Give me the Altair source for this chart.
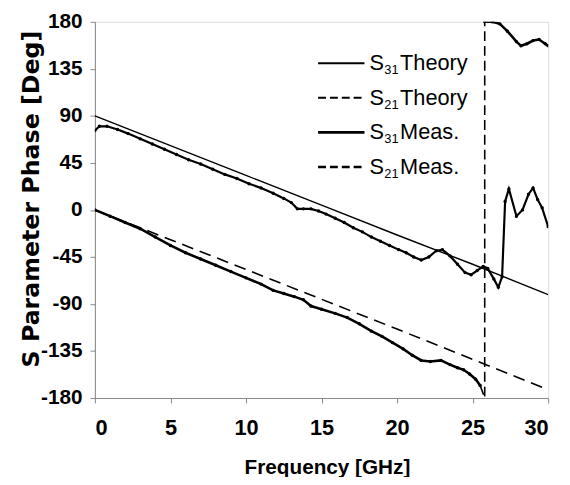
import altair as alt
import pandas as pd

# ---------------- data ----------------
th31_f = [0, 5, 10, 15, 20, 25, 30]
th31_v = [90, 61.5, 33, 4.5, -24, -52, -81]

th21_f = [0, 5, 10, 15, 20, 25, 30]
th21_v = [0, -28.5, -57, -85.5, -114, -143, -172]

m31_f = [0, 0.3, 0.8, 1.5, 2.2, 3.0, 3.8, 4.6, 5.4, 6.2, 7.0, 7.8, 8.6, 9.4, 10.2,
         11.0, 11.8, 12.5, 13.0, 13.4, 13.8, 14.3, 14.8, 15.3, 15.9, 16.5, 17.1,
         17.7, 18.3, 18.9, 19.5, 20.1, 20.6, 21.1, 21.6, 22.1, 22.6, 23.0, 23.5,
         24.0, 24.5, 24.9, 25.3, 25.7, 26.0, 26.4, 26.7, 26.95, 27.15, 27.4, 27.9,
         28.3, 28.7, 29.0, 29.3, 29.6, 30.0]
m31_v = [76, 80, 80, 77, 73, 68, 63, 58, 53, 48, 44, 39, 34, 30, 25,
         21, 16, 11, 7, 1, 1, 1, -1, -4, -8, -12, -17,
         -21, -26, -30, -34, -38, -41, -45, -48, -45, -39, -38, -44,
         -52, -60, -62, -58, -54, -56, -66, -74, -64, 8, 20, -6,
         0, 15, 21, 10, 2, -16]

m21_lo_f = [0, 1, 2, 3, 4, 5, 6, 7, 8, 9, 10, 11, 11.8, 12.5, 13.2, 13.8, 14.3,
            15.0, 15.9, 16.7, 17.5, 18.3, 19.0, 19.7, 20.4, 21.0, 21.6, 22.2,
            22.9, 23.5, 24.0, 24.4, 24.8, 25.2, 25.5]
m21_lo_v = [0, -6, -12, -18, -26, -34, -41, -47, -53, -59, -65, -71, -77, -80,
            -83, -86, -92, -95, -99, -103, -109, -116, -121, -127, -133, -139,
            -144, -145, -144, -148, -151, -153, -157, -162, -168]

m21_wrap_f = [25.5, 25.8, 25.8]
m21_wrap_v = [-168, -180, 180]

m21_hi_f = [25.8, 26.3, 26.8, 27.3, 27.9, 28.2, 28.6, 29.0, 29.4, 29.8, 30.0]
m21_hi_v = [180, 180, 178, 171, 161, 157, 159, 162, 163, 159, 157]

x_ticks = [0, 5, 10, 15, 20, 25, 30]
y_ticks = [-180, -135, -90, -45, 0, 45, 90, 135, 180]

legend_labels = ["Theory", "Theory", "Meas.", "Meas."]
legend_subs = ["31", "21", "31", "21"]

# ---------------- tables ----------------
def frame(f, v, seg):
    return pd.DataFrame({"f": f, "v": v, "seg": seg})

d_th31 = frame(th31_f, th31_v, "th31")
d_th21 = frame(th21_f, th21_v, "th21")
d_m31 = frame(m31_f, m31_v, "m31")
d_m21 = pd.concat([frame(m21_lo_f, m21_lo_v, "lo"), frame(m21_hi_f, m21_hi_v, "hi")])
d_wrap = frame(m21_wrap_f, m21_wrap_v, "wrap")

FONT = "Liberation Sans, Arial, Helvetica, sans-serif"
WIDE = "DejaVu Sans, Liberation Sans, sans-serif"
W, H = 459, 381
MINUS = "datum.value < 0 ? '-' + abs(datum.value) : '' + datum.value"

xs = alt.Scale(domain=[0, 30], nice=False, zero=False)
ys = alt.Scale(domain=[-180, 180], nice=False, zero=False)

xax = alt.Axis(values=x_ticks, title="Frequency [GHz]", grid=False,
               labelFont=FONT, labelFontSize=22, labelFontWeight="bold",
               labelPadding=15, tickSize=5, labelExpr=MINUS,
               titleFont=FONT, titleFontSize=21, titleFontWeight="bold",
               titleX=235, titleY=70, titleBaseline="middle")
yax = alt.Axis(values=y_ticks, title="S Parameter Phase [Deg]", grid=False,
               labelFont=FONT, labelFontSize=21, labelFontWeight="bold",
               labelPadding=8, tickSize=5, labelExpr=MINUS,
               titleFont=WIDE, titleFontSize=24, titleFontWeight="bold",
               titleX=-64, titleY=179, titleBaseline="middle", titleAngle=270,
               titleAlign="center")

X = alt.X("f:Q", scale=xs, axis=xax)
Y = alt.Y("v:Q", scale=ys, axis=yax)

th31 = alt.Chart(d_th31).mark_line(color="black", strokeWidth=1.4, clip=True).encode(x=X, y=Y)
th21 = alt.Chart(d_th21).mark_line(color="black", strokeWidth=1.6, strokeDash=[12, 7],
                                    clip=True).encode(x=X, y=Y)
m31_line = alt.Chart(d_m31).mark_line(color="black", strokeWidth=2.2, clip=True).encode(x=X, y=Y)
m31_pts = alt.Chart(d_m31).mark_point(color="black", filled=True, size=12, opacity=1,
                                      clip=True).encode(x=X, y=Y)
m21_line = alt.Chart(d_m21).mark_line(color="black", strokeWidth=2.6, clip=True).encode(
    x=X, y=Y, detail="seg:N")
m21_pts = alt.Chart(d_m21).mark_point(color="black", filled=True, size=12, opacity=1,
                                      clip=True).encode(x=X, y=Y)
wrap = alt.Chart(d_wrap).mark_line(color="black", strokeWidth=1.6, strokeDash=[10, 5],
                                   clip=True).encode(x=X, y=Y)

# ---------------- legend (pixel placement inside the plot) ----------------
one = pd.DataFrame({"k": [0]})
rows_y = [42, 77, 112, 147]
dashes = [[1, 0], [8, 4], [1, 0], [8, 4]]
widths = [2.0, 2.0, 2.6, 2.6]
leg_layers = []
for i in range(4):
    yy = rows_y[i]
    leg_layers.append(alt.Chart(one).mark_rule(color="black", strokeWidth=widths[i],
                                               strokeDash=dashes[i]).encode(
        x=alt.value(226), x2=alt.value(273), y=alt.value(yy)))
    leg_layers.append(alt.Chart(one).mark_text(text="S", font=FONT, fontSize=22,
                                               align="left", baseline="middle",
                                               color="black").encode(
        x=alt.value(278), y=alt.value(yy)))
    leg_layers.append(alt.Chart(one).mark_text(text=legend_subs[i], font=FONT,
                                               fontSize=13, align="left",
                                               baseline="middle", color="black").encode(
        x=alt.value(293), y=alt.value(yy + 7)))
    leg_layers.append(alt.Chart(one).mark_text(text=legend_labels[i], font=FONT,
                                               fontSize=22, align="left",
                                               baseline="middle", color="black").encode(
        x=alt.value(309), y=alt.value(yy)))

chart = alt.layer(th31, th21, wrap, m31_line, m31_pts, m21_line, m21_pts, *leg_layers).properties(
    width=W, height=H,
    padding={"left": 88, "top": 11, "right": 14, "bottom": 77},
    autosize=alt.AutoSizeParams(type="none"),
).configure_view(stroke="black", strokeWidth=2).configure_axis(
    domainColor="black", domainWidth=2, tickColor="black", tickWidth=1.5,
    labelColor="black", titleColor="black"
).configure(background="white")

chart.save("out.html", embed_options={"renderer": "svg", "actions": False})
